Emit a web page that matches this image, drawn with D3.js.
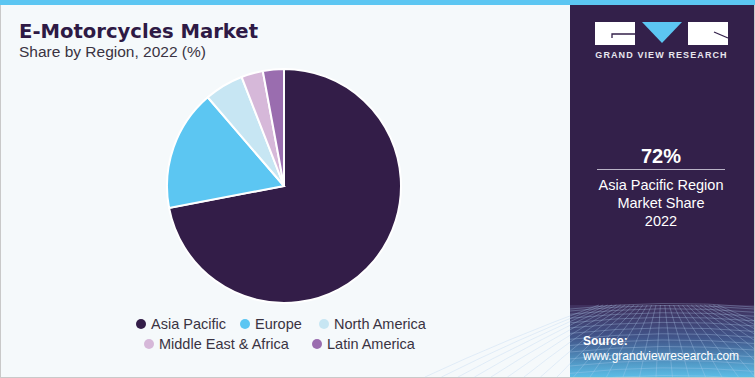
<!DOCTYPE html>
<html>
<head>
<meta charset="utf-8">
<script src="https://cdn.jsdelivr.net/npm/d3@7"></script>
<style>
  body { margin: 0; background: #fff; }
  svg { display: block; font-family: "Liberation Sans", Arial, sans-serif; }
</style>
</head>
<body>
<div id="chart"></div>
<script>
// data
const regions = ["Asia Pacific", "Europe", "North America", "Middle East & Africa", "Latin America"];
const shares = [72, 16.7, 5.4, 3.0, 2.9];
const colors = ["#331d48", "#5cc6f2", "#c7e6f3", "#d6b8d9", "#9a6daf"];

const W = 755, H = 378;
const svg = d3.select("#chart").append("svg")
    .attr("width", W)
    .attr("height", H);

const defs = svg.append("defs");
const grad = defs.append("linearGradient")
    .attr("id", "srcGrad")
    .attr("x1", 0).attr("y1", 0).attr("x2", 0).attr("y2", 1);
grad.append("stop").attr("offset", "0%").attr("stop-color", "#3f2f5c");
grad.append("stop").attr("offset", "45%").attr("stop-color", "#41558a");
grad.append("stop").attr("offset", "100%").attr("stop-color", "#5bbde6");

// left panel + borders
svg.append("rect").attr("x", 0).attr("y", 0).attr("width", W).attr("height", H).attr("fill", "#c9c9c9");
svg.append("rect").attr("x", 1).attr("y", 0).attr("width", 569).attr("height", H - 1).attr("fill", "#f5f9fb");
svg.append("rect").attr("x", 0).attr("y", 0).attr("width", W).attr("height", 5).attr("fill", "#5cc6f2");

// right panel
svg.append("rect").attr("x", 570).attr("y", 5).attr("width", 184).attr("height", H - 6).attr("fill", "#33204a");
svg.append("rect").attr("x", 570).attr("y", 305).attr("width", 184).attr("height", H - 306).attr("fill", "url(#srcGrad)");

// faint grid in the source area
const grid = svg.append("g").attr("stroke", "#b4d0ee").attr("stroke-opacity", 0.45).attr("stroke-width", 0.7).attr("fill", "none");
d3.range(0, 14).forEach(i => {
    const y = 305 + Math.pow(i / 13, 1.4) * 72;
    grid.append("path").attr("d", `M570,${y + 4} Q662,${y - 6} 754,${y + 2}`);
});
d3.range(-6, 22).forEach(i => {
    const x = 570 + i * 11;
    grid.append("path").attr("d", `M${662 + (x - 662) * 0.4},305 Q${x},340 ${662 + (x - 662) * 1.5},377`);
});

// title
svg.append("text")
    .attr("x", 19).attr("y", 38)
    .attr("font-family", "'DejaVu Sans', sans-serif")
    .attr("font-size", "19.6px").attr("font-weight", "bold")
    .attr("fill", "#2e1a45")
    .text("E-Motorcycles Market");
svg.append("text")
    .attr("x", 19).attr("y", 57)
    .attr("font-size", "15.5px")
    .attr("fill", "#3a3342")
    .text("Share by Region, 2022 (%)");

// pie
const cx = 284, cy = 186, r = 117;
const pie = d3.pie().sort(null).value(d => d);
const arc = d3.arc().innerRadius(0).outerRadius(r);

svg.append("g")
    .attr("transform", `translate(${cx},${cy})`)
    .selectAll("path")
    .data(pie(shares))
    .enter()
    .append("path")
    .attr("d", arc)
    .attr("fill", (d, i) => colors[i])
    .attr("stroke", "#ffffff")
    .attr("stroke-width", 2);

// legend
const legendPos = [
    {x: 141, y: 324}, {x: 245, y: 324}, {x: 324, y: 324},
    {x: 149, y: 344}, {x: 317, y: 344}
];
const legend = svg.append("g").selectAll("g")
    .data(regions)
    .enter()
    .append("g")
    .attr("transform", (d, i) => `translate(${legendPos[i].x},${legendPos[i].y})`);
legend.append("circle").attr("r", 5).attr("fill", (d, i) => colors[i]);
legend.append("text")
    .attr("x", 10).attr("y", 5)
    .attr("font-size", "14.5px")
    .attr("fill", "#3a3342")
    .text(d => d);

// logo
const logo = svg.append("g");
logo.append("rect").attr("x", 595).attr("y", 22).attr("width", 40).attr("height", 23).attr("fill", "#ffffff");
logo.append("path").attr("d", "M612,38 L612,34 L635,34").attr("stroke", "#33204a").attr("stroke-width", 1.3).attr("fill", "none");
logo.append("path").attr("d", "M642,22 L682,22 L662,43 Z").attr("fill", "#5cc6f2");
logo.append("rect").attr("x", 688).attr("y", 22).attr("width", 40).attr("height", 23).attr("fill", "#ffffff");
logo.append("path").attr("d", "M714,32 L728,38").attr("stroke", "#33204a").attr("stroke-width", 1.3);
logo.append("text")
    .attr("x", 661.5).attr("y", 58)
    .attr("text-anchor", "middle")
    .attr("font-size", "9px").attr("font-weight", "bold")
    .attr("letter-spacing", "1.1px")
    .attr("fill", "#e8e6ee")
    .text("GRAND VIEW RESEARCH");

// highlight stat
const stat = svg.append("g").attr("fill", "#ffffff").attr("text-anchor", "middle");
stat.append("text").attr("x", 661).attr("y", 163).attr("font-size", "20px").attr("font-weight", "bold")
    .text(d3.max(shares) + "%");
svg.append("line").attr("x1", 597).attr("x2", 725).attr("y1", 169.5).attr("y2", 169.5)
    .attr("stroke", "#b9b3c6").attr("stroke-width", 1);
["Asia Pacific Region", "Market Share", "2022"].forEach((t, i) => {
    stat.append("text").attr("x", 661).attr("y", 190 + i * 18).attr("font-size", "14.5px").text(t);
});

// source
svg.append("text").attr("x", 583).attr("y", 345).attr("font-size", "12px").attr("font-weight", "bold")
    .attr("fill", "#ffffff").text("Source:");
svg.append("text").attr("x", 583).attr("y", 360).attr("font-size", "12px")
    .attr("fill", "#ffffff").text("www.grandviewresearch.com");
</script>
</body>
</html>
